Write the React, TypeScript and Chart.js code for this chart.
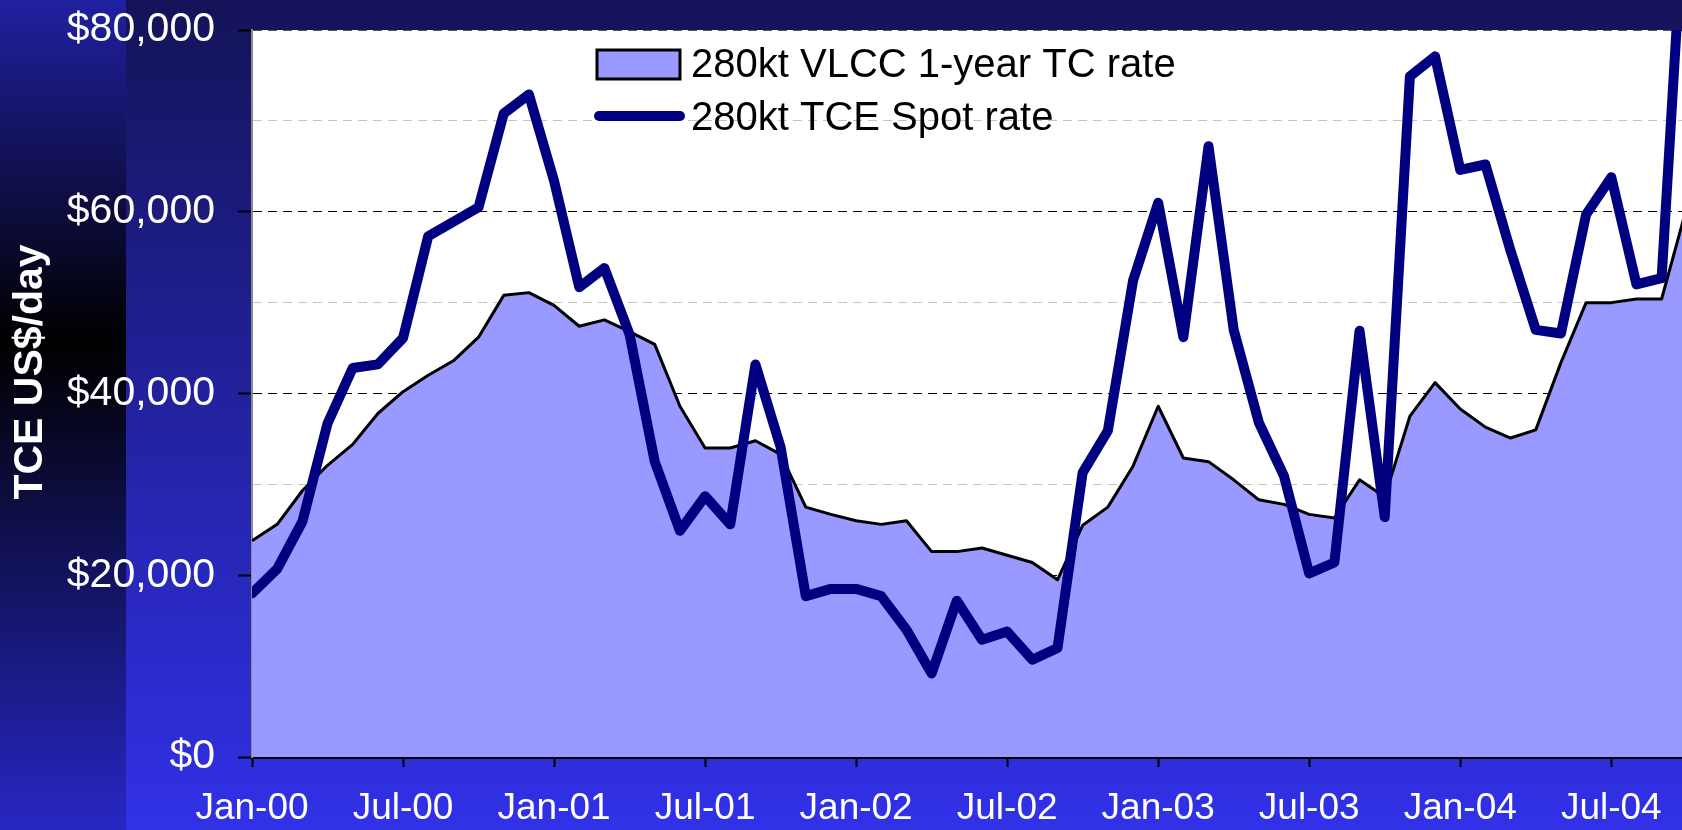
import { useEffect, useRef } from 'react';
import { Chart, registerables } from 'chart.js';

Chart.register(...registerables);

const months = [
  'Jan-00','Feb-00','Mar-00','Apr-00','May-00','Jun-00','Jul-00','Aug-00','Sep-00','Oct-00','Nov-00','Dec-00',
  'Jan-01','Feb-01','Mar-01','Apr-01','May-01','Jun-01','Jul-01','Aug-01','Sep-01','Oct-01','Nov-01','Dec-01',
  'Jan-02','Feb-02','Mar-02','Apr-02','May-02','Jun-02','Jul-02','Aug-02','Sep-02','Oct-02','Nov-02','Dec-02',
  'Jan-03','Feb-03','Mar-03','Apr-03','May-03','Jun-03','Jul-03','Aug-03','Sep-03','Oct-03','Nov-03','Dec-03',
  'Jan-04','Feb-04','Mar-04','Apr-04','May-04','Jun-04','Jul-04','Aug-04','Sep-04','Oct-04',
];

const tcRate = [
  23800, 25600, 29300, 32100, 34400, 37800, 40200, 42000, 43600, 46200, 50800, 51100,
  49700, 47400, 48100, 46800, 45400, 38600, 34000, 34000, 34800, 33300, 27500, 26700,
  26000, 25600, 26000, 22600, 22600, 23000, 22200, 21400, 19500, 25500, 27500, 32000,
  38600, 32900, 32500, 30500, 28300, 27800, 26700, 26300, 30500, 28600, 37500, 41200,
  38300, 36300, 35100, 36000, 43400, 50000, 50000, 50400, 50400, 60500,
];

const spotRate = [
  18000, 20700, 25900, 36700, 42800, 43200, 46100, 57300, 58900, 60500, 70800, 72900,
  63400, 51700, 53800, 46500, 32500, 24900, 28700, 25600, 43200, 34100, 17700, 18500,
  18500, 17700, 14000, 9200, 17200, 12900, 13800, 10700, 12000, 31300, 35900, 52400,
  61000, 46200, 67200, 47000, 36800, 30900, 20200, 21400, 46900, 26400, 74900, 77100,
  64600, 65200, 55700, 47000, 46600, 59700, 63800, 52000, 52700, 99000,
];

const xTickLabels = ['Jan-00', 'Jul-00', 'Jan-01', 'Jul-01', 'Jan-02', 'Jul-02', 'Jan-03', 'Jul-03', 'Jan-04', 'Jul-04'];
const xTickStep = 6;
const xVisibleMax = 56.81;
const yMin = 0;
const yMax = 80000;
const yStep = 10000;
const yLabelStep = 20000;

const seriesLabels = ['280kt VLCC 1-year TC rate', '280kt TCE Spot rate'];
const yTitle = 'TCE US$/day';

const W = 1682;
const H = 830;
const FONT = '"Liberation Sans", Arial, Helvetica, sans-serif';

const bgPlugin = {
  id: 'bgPlugin',
  beforeDraw(chart: any) {
    const { ctx, chartArea } = chart;
    ctx.save();
    const g = ctx.createLinearGradient(0, 0, 0, H);
    g.addColorStop(0, '#141358');
    g.addColorStop(1, '#3131e8');
    ctx.fillStyle = g;
    ctx.fillRect(0, 0, W, H);
    const s = ctx.createLinearGradient(0, 0, 0, H);
    s.addColorStop(0, '#2120a0');
    s.addColorStop(0.41, '#000000');
    s.addColorStop(1, '#2727c4');
    ctx.fillStyle = s;
    ctx.fillRect(0, 0, 126, H);
    ctx.fillStyle = '#ffffff';
    ctx.fillRect(chartArea.left, chartArea.top, chartArea.right - chartArea.left, chartArea.bottom - chartArea.top);
    ctx.restore();
  },
};

const overlayPlugin = {
  id: 'overlayPlugin',
  afterDraw(chart: any) {
    const { ctx } = chart;
    const ds = chart.data.datasets;
    ctx.save();
    // y axis title
    ctx.translate(31, 372);
    ctx.rotate(-Math.PI / 2);
    ctx.font = `bold 41px ${FONT}`;
    ctx.fillStyle = '#ffffff';
    ctx.textAlign = 'center';
    ctx.textBaseline = 'middle';
    ctx.fillText(yTitle, 0, 0);
    ctx.restore();

    // legend
    ctx.save();
    ctx.font = `40px ${FONT}`;
    ctx.textBaseline = 'middle';
    ctx.textAlign = 'left';
    ctx.fillStyle = ds[0].backgroundColor;
    ctx.fillRect(597, 50, 83, 29);
    ctx.lineWidth = 3;
    ctx.strokeStyle = ds[0].borderColor;
    ctx.strokeRect(597, 50, 83, 29);
    ctx.fillStyle = '#000000';
    ctx.fillText(ds[0].label, 691, 66);

    ctx.beginPath();
    ctx.lineCap = 'round';
    ctx.lineWidth = ds[1].borderWidth;
    ctx.strokeStyle = ds[1].borderColor;
    ctx.moveTo(599, 116);
    ctx.lineTo(680, 116);
    ctx.stroke();
    ctx.fillStyle = '#000000';
    ctx.fillText(ds[1].label, 691, 119);
    ctx.restore();
  },
};

export default function App() {
  const ref = useRef<HTMLCanvasElement | null>(null);

  useEffect(() => {
    document.body.style.margin = '0';
    document.body.style.overflow = 'hidden';
    const canvas = ref.current;
    if (!canvas) return;
    const chart = new Chart(canvas, {
      type: 'line',
      data: {
        datasets: [
          {
            label: seriesLabels[0],
            data: tcRate.map((v, i) => ({ x: i, y: v })),
            borderColor: '#000000',
            backgroundColor: '#9999ff',
            borderWidth: 3,
            fill: 'origin',
            pointRadius: 0,
            tension: 0,
            borderJoinStyle: 'round',
            order: 2,
            clip: { left: 0, top: 0, right: 0, bottom: 4 },
          },
          {
            label: seriesLabels[1],
            data: spotRate.map((v, i) => ({ x: i, y: v })),
            borderColor: '#000080',
            backgroundColor: '#000080',
            borderWidth: 10,
            fill: false,
            pointRadius: 0,
            tension: 0,
            borderJoinStyle: 'round',
            borderCapStyle: 'round',
            order: 1,
            clip: { left: 0, top: 0, right: 0, bottom: 6 },
          },
        ],
      },
      options: {
        responsive: false,
        animation: false,
        devicePixelRatio: 1,
        layout: { padding: { top: 30, left: 0, right: 0, bottom: 0 } },
        plugins: {
          legend: { display: false },
          tooltip: { enabled: false },
          title: { display: false },
        },
        scales: {
          x: {
            type: 'linear',
            min: 0,
            max: xVisibleMax,
            afterFit: (s: any) => {
              s.height = H - 757;
              s.paddingLeft = 0;
              s.paddingRight = 0;
            },
            border: { display: true, color: '#000000', width: 3 },
            grid: {
              display: true,
              drawOnChartArea: false,
              drawTicks: true,
              tickLength: 10,
              tickColor: '#000000',
              tickWidth: 2,
            },
            ticks: {
              stepSize: xTickStep,
              includeBounds: false,
              autoSkip: false,
              maxRotation: 0,
              minRotation: 0,
              padding: 20,
              color: '#ffffff',
              font: { family: FONT, size: 37 },
              callback: (v: any) => {
                const idx = Math.round(Number(v) / xTickStep);
                return xTickLabels[idx] ?? '';
              },
            },
          },
          y: {
            type: 'linear',
            min: yMin,
            max: yMax,
            afterFit: (s: any) => {
              s.width = 252;
              s.paddingTop = 0;
              s.paddingBottom = 0;
            },
            border: { display: true, color: '#8a8a8a', width: 2, dash: [9, 6] },
            grid: {
              display: true,
              drawOnChartArea: true,
              drawTicks: true,
              tickLength: 14,
              tickWidth: 2,
              lineWidth: 1,
              color: (c: any) => {
                const v = c.tick ? c.tick.value : 0;
                if (v === yMax) return '#555555';
                if (v === 0) return 'rgba(0,0,0,0)';
                return v % yLabelStep === 0 ? '#000000' : '#c4c4c4';
              },
              tickColor: (c: any) => {
                const v = c.tick ? c.tick.value : 0;
                return v % yLabelStep === 0 ? '#000000' : 'rgba(0,0,0,0)';
              },
            },
            ticks: {
              stepSize: yStep,
              padding: 23,
              color: '#ffffff',
              font: { family: FONT, size: 41 },
              callback: (v: any) => {
                const n = Number(v);
                return n % yLabelStep === 0 ? '$' + n.toLocaleString('en-US') : '';
              },
            },
          },
        },
      },
      plugins: [bgPlugin, overlayPlugin],
    } as any);
    return () => chart.destroy();
  }, []);

  return (
    <div style={{ width: W, height: H, overflow: 'hidden' }}>
      <canvas ref={ref} width={W} height={H} style={{ display: 'block', width: W, height: H }} aria-label={months.join(', ')} />
    </div>
  );
}
